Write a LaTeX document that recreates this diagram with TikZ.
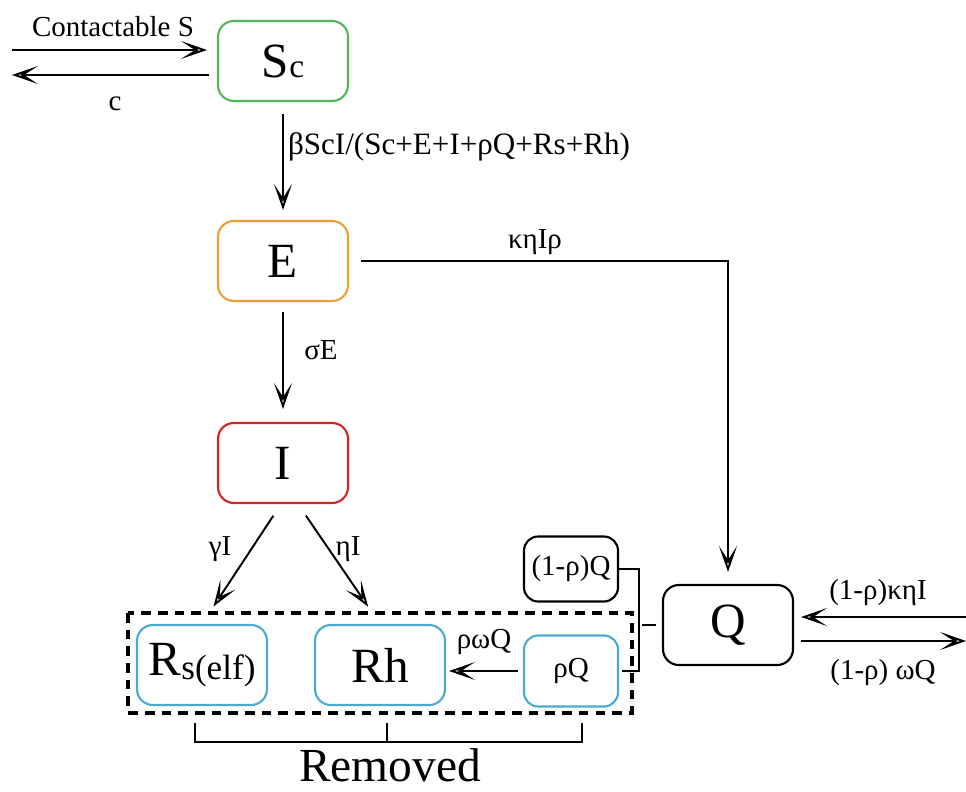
\documentclass[tikz,border=0pt]{standalone}
\usepackage{fontspec}
\setmainfont{LiberationSerif}[Extension=.ttf, UprightFont=*-Regular,
  BoldFont=*-Bold, ItalicFont=*-Italic, BoldItalicFont=*-BoldItalic]
\usepackage{tikz}
\usetikzlibrary{arrows.meta}
\usepackage{xcolor}
\definecolor{scgreen}{RGB}{84,182,84}
\definecolor{eorange}{RGB}{234,160,56}
\definecolor{ired}{RGB}{212,36,36}
\definecolor{rblue}{RGB}{74,170,210}

\begin{document}
\begin{tikzpicture}[
    x=0.02cm, y=-0.02cm,
    cbox/.style={rectangle, rounded corners=9pt, line width=1.2pt,
                 minimum width=2.6cm, minimum height=1.6cm, inner sep=0pt,
                 align=center, font=\fontsize{28}{30}\selectfont},
    sbox/.style={rectangle, rounded corners=8pt, line width=1.2pt,
                 minimum width=1.88cm, inner sep=0pt,
                 align=center, font=\fontsize{16.5}{18}\selectfont},
    arr/.style={-{Stealth[length=5.2mm, width=3.6mm, inset=2.8mm, open, fill=white]},
                line width=1.1pt},
    lbl/.style={font=\fontsize{16.5}{18}\selectfont, inner sep=0pt},
    dashbox/.style={line width=1.8pt, dash pattern=on 5.5pt off 4pt},
]
  \useasboundingbox (0,0) rectangle (966,791);

  % Left column
  \node[cbox, draw=scgreen] (sc) at (283,61)
    {S{\fontsize{19}{20}\selectfont c}};
  \node[cbox, draw=eorange] (e) at (283,261) {E};
  \node[cbox, draw=ired] (i) at (283,463) {I};

  % Removed group
  \node[cbox, draw=rblue] (rs) at (202,665)
    {R{\fontsize{20}{22}\selectfont\raisebox{-2pt}{s(elf)}}};
  \node[cbox, draw=rblue] (rh) at (380,665) {Rh};
  \node[sbox, draw=rblue, minimum height=1.42cm] (rq) at (571,671) {ρQ};
  \draw[dashbox] (128,613) rectangle (632,713);

  % Right: quarantine
  \node[sbox, draw=black, minimum height=1.3cm] (oq) at (571,569) {(1-ρ)Q};
  \node[cbox, draw=black] (q) at (728,625) {Q};

  % in / out of Sc
  \coordinate (cin) at (12,50);
  \coordinate (cout) at (12,75);
  \draw[arr, shorten >=0.2cm] (cin) -- (sc.west |- cin);
  \draw[arr, shorten <=0.16cm] (sc.west |- cout) -- (cout);
  \node[lbl] at (113,27) {Contactable S};
  \node[lbl] at (115,104) {c};

  % Sc -> E -> I
  \draw[arr, shorten <=0.24cm, shorten >=0.2cm] (sc.south) -- (e.north);
  \node[lbl, font=\fontsize{17.7}{19}\selectfont] at (459,147) {βScI/(Sc+E+I+ρQ+Rs+Rh)};
  \draw[arr, shorten <=0.2cm, shorten >=0.26cm] (e.south) -- (i.north);
  \node[lbl] at (321,350) {σE};

  % E -> Q
  \draw[arr, shorten <=0.24cm, shorten >=0.24cm] (e.east) -- (e.east -| q.north) -- (q.north);
  \node[lbl] at (535,242) {κηIρ};

  % I -> Rs, I -> Rh
  \draw[arr, shorten <=0.28cm, shorten >=0.42cm] ([xshift=-0.04cm]i.south) -- (rs.north);
  \draw[arr, shorten <=0.28cm, shorten >=0.42cm] ([xshift=0.3cm]i.south) -- (rh.north);
  \node[lbl] at (220,549) {γI};
  \node[lbl] at (348,549) {ηI};

  % rhoQ -> Rh
  \draw[arr, shorten <=0.1cm, shorten >=0.06cm] (rq.west) -- (rq.west -| rh.east);
  \node[lbl] at (484,642) {ρωQ};

  % split of Q
  \draw[line width=1.1pt] (oq.east) -- ++(20,0) |- ([xshift=0.06cm]rq.east);
  \draw[line width=1.1pt] ([xshift=-0.12cm]q.west) -- ([xshift=-0.4cm]q.west);

  % in / out of Q
  \coordinate (qin) at (966,617);
  \coordinate (qout) at (966,641);
  \draw[arr, shorten >=0.14cm] (qin) -- (q.east |- qin);
  \draw[arr, shorten <=0.14cm] (q.east |- qout) -- (qout);
  \node[lbl] at (878,593) {(1-ρ)κηI};
  \node[lbl] at (883,673) {(1-ρ) ωQ};

  % Removed bracket
  \draw[line width=1.1pt] (195,723) -- (195,742) -- (582,742) -- (582,723);
  \draw[line width=1.1pt] (387,742) -- (387,723);
  \node[font=\fontsize{27}{30}\selectfont, inner sep=0pt] (rem) at (390,765) {Removed};

\end{tikzpicture}
\end{document}
